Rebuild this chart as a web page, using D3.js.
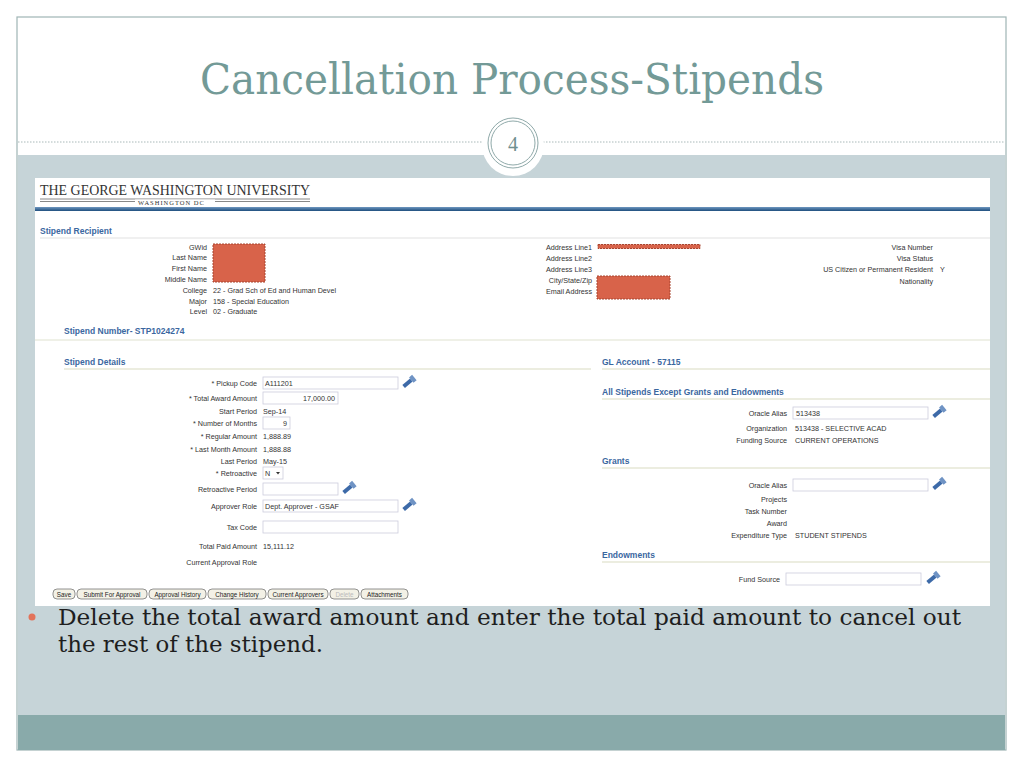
<!DOCTYPE html>
<html><head><meta charset="utf-8">
<script src="https://cdn.jsdelivr.net/npm/d3@7"></script>
<style>body{margin:0;background:#fff}svg{display:block}</style>
</head><body>
<svg id="slide" width="1024" height="768"></svg>
<script>
// textes de la diapositive
const title = "Cancellation Process-Stipends";
const slideNumber = "4";
const bulletLines = ["Delete the total award amount and enter the total paid amount to cancel out", "the rest of the stipend."];

// Stipend Recipient
const recipLabels = ["GWid", "Last Name", "First Name", "Middle Name", "College", "Major", "Level"];
const recipValues = ["", "", "", "", "22 - Grad Sch of Ed and Human Devel", "158 - Special Education", "02 - Graduate"];
const addrLabels = ["Address Line1", "Address Line2", "Address Line3", "City/State/Zip", "Email Address"];
const visaLabels = ["Visa Number", "Visa Status", "US Citizen or Permanent Resident", "Nationality"];
const visaValues = ["", "", "Y", ""];

// Stipend Details
const detailLabels = ["Pickup Code", "Total Award Amount", "Start Period", "Number of Months", "Regular Amount", "Last Month Amount", "Last Period", "Retroactive", "Retroactive Period", "Approver Role", "Tax Code", "Total Paid Amount", "Current Approval Role"];
const detailValues = ["A111201", "17,000.00", "Sep-14", "9", "1,888.89", "1,888.88", "May-15", "N", "", "Dept. Approver - GSAF", "", "15,111.12", ""];
const detailRequired = [1, 1, 0, 1, 1, 1, 0, 1, 0, 0, 0, 0, 0];
const detailY = [383, 398, 411, 423, 436, 449, 461, 473, 489, 506, 527, 546, 562];
// type de champ : t=texte, n=nombre (aligné à droite), s=liste, i=champ + loupe, b=champ seul
const detailKind = ["i", "n", "t", "n", "t", "t", "t", "s", "i", "i", "b", "t", "t"];
const detailWidth = [135, 75, 0, 27, 0, 0, 0, 20, 75, 135, 135, 0, 0];

// GL Account
const allLabels = ["Oracle Alias", "Organization", "Funding Source"];
const allValues = ["513438", "513438 - SELECTIVE ACAD", "CURRENT OPERATIONS"];
const grantLabels = ["Oracle Alias", "Projects", "Task Number", "Award", "Expenditure Type"];
const grantValues = ["", "", "", "", "STUDENT STIPENDS"];

const buttons = ["Save", "Submit For Approval", "Approval History", "Change History", "Current Approvers", "Delete", "Attachments"];
const buttonWidths = [22, 70, 57, 58, 60, 29, 47];

const svg = d3.select("#slide");
const formFont = "'Liberation Sans', Arial, sans-serif";
const blue = "#3b679f";

// fond de la diapositive
svg.append("rect").attr("x", 17).attr("y", 17).attr("width", 989).attr("height", 733)
    .attr("fill", "#fff").attr("stroke", "#9fb5b5").attr("stroke-width", 1.2);
svg.append("rect").attr("x", 18).attr("y", 155).attr("width", 987).attr("height", 560).attr("fill", "#c6d4d8");
svg.append("rect").attr("x", 18).attr("y", 715).attr("width", 987).attr("height", 35).attr("fill", "#89aaaa");
svg.append("line").attr("x1", 18).attr("x2", 1005).attr("y1", 142).attr("y2", 142)
    .attr("stroke", "#a9b9b9").attr("stroke-dasharray", "1.5,1.5");

svg.append("text").attr("x", 512).attr("y", 94).attr("text-anchor", "middle")
    .attr("font-family", "'DejaVu Serif', Georgia, serif").attr("font-size", 42)
    .attr("textLength", 624).attr("lengthAdjust", "spacingAndGlyphs")
    .attr("fill", "#739a97").text(title);

// cercle du numéro
svg.append("circle").attr("cx", 513).attr("cy", 145).attr("r", 31).attr("fill", "#fff");
svg.append("circle").attr("cx", 513).attr("cy", 143).attr("r", 25).attr("fill", "#fff").attr("stroke", "#8fa9a9").attr("stroke-width", 1);
svg.append("circle").attr("cx", 513).attr("cy", 143).attr("r", 22).attr("fill", "none").attr("stroke", "#8fa9a9").attr("stroke-width", 1);
svg.append("text").attr("x", 513).attr("y", 151).attr("text-anchor", "middle")
    .attr("font-family", "'Liberation Serif', serif").attr("font-size", 20).attr("fill", "#6f8f8f").text(slideNumber);

// capture d'écran du formulaire
const shot = svg.append("g");
shot.append("rect").attr("x", 35).attr("y", 178).attr("width", 955).attr("height", 428).attr("fill", "#fff");
shot.append("text").attr("x", 40).attr("y", 195).attr("font-family", "'Liberation Serif', serif")
    .attr("font-size", 14).attr("textLength", 270).attr("lengthAdjust", "spacingAndGlyphs").attr("fill", "#333")
    .text("THE GEORGE WASHINGTON UNIVERSITY");
shot.append("line").attr("x1", 40).attr("x2", 310).attr("y1", 199).attr("y2", 199).attr("stroke", "#888");
shot.append("line").attr("x1", 40).attr("x2", 310).attr("y1", 201.5).attr("y2", 201.5).attr("stroke", "#888");
shot.append("rect").attr("x", 135).attr("y", 199.5).attr("width", 80).attr("height", 6).attr("fill", "#fff");
shot.append("text").attr("x", 138).attr("y", 205).attr("font-family", "'Liberation Serif', serif")
    .attr("font-size", 6.5).attr("letter-spacing", 1).attr("fill", "#333").text("WASHINGTON DC");
const grad = svg.append("defs").append("linearGradient").attr("id", "bar").attr("x1", 0).attr("x2", 0).attr("y1", 0).attr("y2", 1);
grad.append("stop").attr("offset", 0).attr("stop-color", "#6f97c0");
grad.append("stop").attr("offset", 1).attr("stop-color", "#1f4f7e");
shot.append("rect").attr("x", 35).attr("y", 207).attr("width", 955).attr("height", 4).attr("fill", "url(#bar)");

function heading(x, y, txt, x2, line) {
    shot.append("text").attr("x", x).attr("y", y + 2).attr("font-family", formFont).attr("font-size", 8.5)
        .attr("font-weight", "bold").attr("fill", blue).text(txt);
    if (line) shot.append("line").attr("x1", x).attr("x2", x2).attr("y1", y + 6).attr("y2", y + 6)
        .attr("stroke", line).attr("stroke-width", 1.2);
}
function labels(arr, x, ys, anchor) {
    shot.selectAll(null).data(arr).enter().append("text").attr("class", "form")
        .attr("x", x).attr("y", (d, i) => ys(i)).attr("text-anchor", anchor || "end")
        .attr("font-family", formFont).attr("font-size", 7.2).attr("fill", "#333").text(d => d);
}
function input(x, y, w) {
    shot.append("rect").attr("x", x).attr("y", y - 6).attr("width", w).attr("height", 12)
        .attr("fill", "#fff").attr("stroke", "#ccd").attr("stroke-width", 0.8);
}
function torch(x, y) {
    const g = shot.append("g").attr("transform", `translate(${x},${y}) rotate(-40)`);
    g.append("rect").attr("x", -7).attr("y", -2).attr("width", 10).attr("height", 4).attr("fill", "#3d6aa8");
    g.append("rect").attr("x", 3).attr("y", -3.5).attr("width", 4).attr("height", 7).attr("fill", "#6f93c4");
}
function redact(x, y, w, h) {
    shot.append("rect").attr("x", x).attr("y", y).attr("width", w).attr("height", h)
        .attr("fill", "#d8634a").attr("stroke", "#a8442f").attr("stroke-dasharray", "2,1");
}

heading(40, 232, "Stipend Recipient", 990, "#e2e2e2");
const rowY = d3.scaleLinear().domain([0, 1]).range([247, 257.8]);
labels(recipLabels, 207, rowY);
labels(recipValues, 213, rowY, "start");
redact(213, 244, 52, 38);
labels(addrLabels, 592, d3.scaleLinear().domain([0, 1]).range([247, 258]));
redact(598, 244.5, 102, 4);
redact(597, 276, 73, 23);
labels(visaLabels, 933, d => [247, 258, 269, 281][d]);
labels(visaValues, 940, d => [247, 258, 269.5, 281][d], "start");

shot.append("line").attr("x1", 35).attr("x2", 990).attr("y1", 340).attr("y2", 340).attr("stroke", "#dfe2cf");
heading(64, 332, "Stipend Number- STP1024274");
heading(64, 363, "Stipend Details", 591, "#d9dcc2");
heading(602, 363, "GL Account - 57115", 990, "#d9dcc2");
heading(602, 393, "All Stipends Except Grants and Endowments", 990, "#d9dcc2");

// détails de la bourse
detailLabels.forEach((lab, i) => {
    const y = detailY[i];
    shot.append("text").attr("class", "form").attr("x", 257).attr("y", y).attr("text-anchor", "end")
        .attr("font-family", formFont).attr("font-size", 7.2).attr("fill", "#333")
        .text((detailRequired[i] ? "* " : "") + lab);
    const k = detailKind[i];
    if (k === "i" || k === "n" || k === "b" || k === "s") input(263, y, detailWidth[i]);
    if (k === "i") torch(263 + detailWidth[i] + 11, y - 1);
    const vx = k === "n" ? 263 + detailWidth[i] - 3 : 265;
    shot.append("text").attr("class", "form").attr("x", k === "t" ? 263 : vx).attr("y", y)
        .attr("text-anchor", k === "n" ? "end" : "start")
        .attr("font-family", formFont).attr("font-size", 7.2).attr("fill", "#333").text(detailValues[i]);
    if (k === "s") shot.append("path").attr("d", `M${276},${y - 1}l4,0l-2,2.5z`).attr("fill", "#333");
});

// compte GL
labels(allLabels, 787, d => [413, 428, 440][d]);
labels(allValues.slice(1), 795, d => [428, 440][d], "start");
input(793, 413, 135);
shot.append("text").attr("class", "form").attr("x", 796).attr("y", 413).attr("font-family", formFont).attr("font-size", 7.2).attr("fill", "#333").text(allValues[0]);
torch(939, 412);
heading(602, 462, "Grants", 990, "#d9dcc2");
labels(grantLabels, 787, d => [485, 499, 511, 523, 535][d]);
labels(grantValues, 795, d => [485, 499, 511, 523, 535][d], "start");
input(793, 485, 135);
torch(939, 484);
heading(602, 556, "Endowments", 990, "#d9dcc2");
labels(["Fund Source"], 780, () => 579);
input(786, 579, 135);
torch(933, 578);

// boutons
const bx = d3.cumsum([53].concat(buttonWidths.map(w => w + 2)));
buttons.forEach((b, i) => {
    shot.append("rect").attr("x", bx[i]).attr("y", 589).attr("width", buttonWidths[i]).attr("height", 10)
        .attr("rx", 4).attr("fill", "#f3f1e6").attr("stroke", "#666").attr("stroke-width", 0.7);
    shot.append("text").attr("x", bx[i] + buttonWidths[i] / 2).attr("y", 597).attr("text-anchor", "middle")
        .attr("font-family", formFont).attr("font-size", 6.3).attr("fill", b === "Delete" ? "#bbb" : "#222").text(b);
});

// décalage vertical des textes du formulaire
shot.selectAll("text.form").attr("dy", 2.5);

// puce et texte
svg.append("circle").attr("cx", 32).attr("cy", 617).attr("r", 3.5).attr("fill", "#e2735a");
svg.selectAll(".bullet").data(bulletLines).enter().append("text")
    .attr("x", 58).attr("y", (d, i) => 625 + i * 27)
    .attr("font-family", "'DejaVu Serif', Georgia, serif").attr("font-size", 22)
    .attr("textLength", (d, i) => i === 0 ? 903 : 265).attr("lengthAdjust", "spacingAndGlyphs")
    .attr("fill", "#1e1e1e").text(d => d);
</script>
</body></html>
